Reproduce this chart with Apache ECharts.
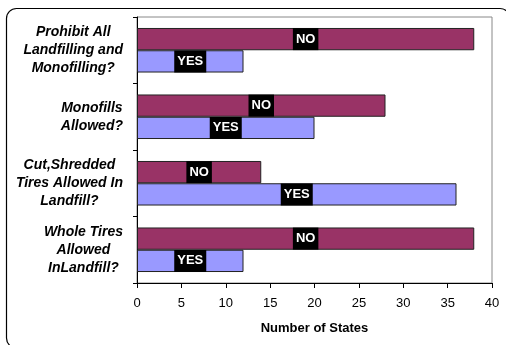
<!DOCTYPE html>
<html>
<head>
<meta charset="utf-8">
<script src="https://cdn.jsdelivr.net/npm/echarts@6/dist/echarts.min.js"></script>
<style>
  html, body { margin: 0; padding: 0; background: #fff; }
  #chart { width: 506px; height: 345px; }
</style>
</head>
<body>
<div id="chart"></div>
<script>
// Survey questions (top to bottom), one line per array entry
const questions = [
  ['Prohibit All', 'Landfilling and', 'Monofilling?'],
  ['Monofills', 'Allowed?'],
  ['Cut,Shredded', 'Tires Allowed In', 'Landfill?'],
  ['Whole Tires', 'Allowed', 'InLandfill?']
];
const noCounts = [38, 28, 14, 38];
const yesCounts = [12, 20, 36, 12];
const xTicks = { min: 0, max: 40, step: 5 };
const xTitle = 'Number of States';

const FAMILY = 'Arial, "Liberation Sans", sans-serif';
const catKeys = questions.map((_, i) => 'c' + i);

const barLabel = {
  show: true,
  position: 'inside',
  color: '#fff',
  backgroundColor: '#000',
  fontFamily: FAMILY,
  fontWeight: 'bold',
  fontSize: 13,
  lineHeight: 22,
  padding: [0, 3]
};

const GRID = { left: 137, right: 14, top: 17, bottom: 62 };

const chart = echarts.init(document.getElementById('chart'), null, { renderer: 'canvas' });
chart.setOption({
  animation: false,
  backgroundColor: '#fff',
  grid: Object.assign({ show: true, borderColor: '#888', borderWidth: 1 }, GRID),
  xAxis: {
    type: 'value',
    min: xTicks.min, max: xTicks.max, interval: xTicks.step,
    name: xTitle,
    nameLocation: 'middle',
    nameGap: 39,
    nameTextStyle: { fontFamily: FAMILY, fontWeight: 'bold', fontSize: 13, color: '#000' },
    axisLine: { show: true, lineStyle: { color: '#000', width: 1 } },
    axisTick: { show: true, length: 5, lineStyle: { color: '#000' } },
    axisLabel: { margin: 14, fontFamily: FAMILY, fontSize: 13, color: '#000' },
    splitLine: { show: false }
  },
  yAxis: {
    type: 'category',
    inverse: true,
    data: catKeys,
    axisLine: { show: true, lineStyle: { color: '#000', width: 1 } },
    axisTick: { show: true, length: 4, lineStyle: { color: '#000' } },
    axisLabel: { show: false }
  },
  series: [
    {
      name: 'NO', type: 'bar', data: noCounts,
      barGap: '0%', barCategoryGap: '33%',
      itemStyle: { color: '#993366', borderColor: '#222', borderWidth: 1 },
      label: Object.assign({ formatter: 'NO' }, barLabel)
    },
    {
      name: 'YES', type: 'bar', data: yesCounts,
      barGap: '0%', barCategoryGap: '33%',
      itemStyle: { color: '#9999FF', borderColor: '#222', borderWidth: 1 },
      label: Object.assign({ formatter: 'YES' }, barLabel)
    }
  ]
});

// Category labels: each question is a block of centred lines, with the block
// sitting flush right against the axis, vertically centred on its band.
const ctx = document.createElement('canvas').getContext('2d');
ctx.font = 'italic bold 14px ' + FAMILY;
const blockRight = GRID.left - 14;
const labelGraphics = questions.map((lines, i) => {
  const w = Math.max(...lines.map(l => ctx.measureText(l).width));
  const y = chart.convertToPixel({ yAxisIndex: 0 }, catKeys[i]);
  return {
    type: 'text',
    x: blockRight - w / 2,
    y: y,
    silent: true,
    style: {
      text: lines.join('\n'),
      align: 'center',
      verticalAlign: 'middle',
      lineHeight: 18,
      font: 'italic bold 14px ' + FAMILY,
      fill: '#000'
    }
  };
});

// Rounded outer frame, running just past the right and bottom edges
chart.setOption({
  graphic: [{
    type: 'rect',
    shape: { x: 6.5, y: 8.5, width: 503.5, height: 339.5, r: 10 },
    style: { fill: 'none', stroke: '#000', lineWidth: 1.2 },
    silent: true, z: -1
  }].concat(labelGraphics)
});
</script>
</body>
</html>
